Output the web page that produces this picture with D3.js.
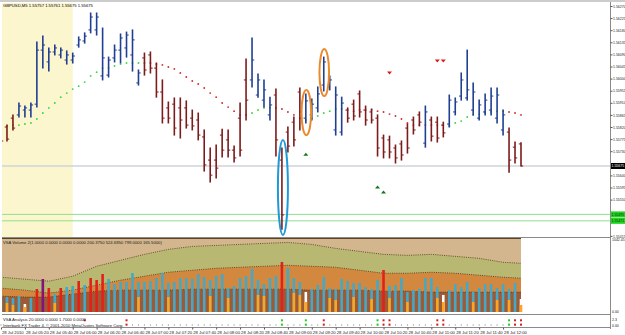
<!DOCTYPE html>
<html lang="en">
<head>
<meta charset="UTF-8">
<title>GBPUSD,M5</title>
<script src="https://cdn.jsdelivr.net/npm/d3@7"></script>
<style>
  body { margin: 0; background: #fff; }
  svg { display: block; font-family: "Liberation Sans", Arial, sans-serif; }
</style>
</head>
<body>
<svg width="625" height="335"></svg>
<script>
// GBPUSD M5, 28 Jul 2010 05:00 - 12:15, one entry per bar
const opens = [1.55775, 1.55820, 1.55853, 1.55865, 1.55883, 1.55883, 1.55905, 1.56106, 1.56062, 1.56099,
  1.56088, 1.56069, 1.56069, 1.56125, 1.56140, 1.56181, 1.56181, 1.56010, 1.56013, 1.56077,
  1.56106, 1.56114, 1.56088, 1.55984, 1.56077, 1.56088, 1.56039, 1.55950, 1.55891, 1.55905,
  1.55891, 1.55891, 1.55853, 1.55846, 1.55783, 1.55697, 1.55697, 1.55790, 1.55772, 1.55734,
  1.55853, 1.55995, 1.55995, 1.55939, 1.55920, 1.55865, 1.55939, 1.55697, 1.55801, 1.55838,
  1.55950, 1.55853, 1.55865, 1.55891, 1.55976, 1.55969, 1.55809, 1.55801, 1.55883, 1.55905,
  1.55943, 1.55883, 1.55876, 1.55853, 1.55779, 1.55772, 1.55742, 1.55757, 1.55816, 1.55846,
  1.55865, 1.55760, 1.55846, 1.55838, 1.55827, 1.55831, 1.55876, 1.55935, 1.55928, 1.55883,
  1.55853, 1.55876, 1.55883, 1.55853, 1.55809, 1.55801, 1.55745, 1.55757]
const highs = [1.55779, 1.55827, 1.55865, 1.55909, 1.55898, 1.55909, 1.56136, 1.56158, 1.56114, 1.56125,
  1.56114, 1.56103, 1.56095, 1.56155, 1.56170, 1.56244, 1.56244, 1.56188, 1.56080, 1.56125,
  1.56166, 1.56173, 1.56181, 1.56032, 1.56095, 1.56099, 1.56058, 1.55995, 1.55913, 1.55928,
  1.55928, 1.55917, 1.55883, 1.55872, 1.55809, 1.55742, 1.55753, 1.55812, 1.55809, 1.55749,
  1.55909, 1.56073, 1.56151, 1.56017, 1.55995, 1.55931, 1.55961, 1.55742, 1.55820, 1.55857,
  1.55965, 1.55943, 1.55924, 1.55969, 1.56080, 1.56010, 1.55969, 1.55931, 1.55891, 1.55920,
  1.55954, 1.55898, 1.55887, 1.55865, 1.55790, 1.55786, 1.55753, 1.55768, 1.55831, 1.55857,
  1.55876, 1.55898, 1.55857, 1.55857, 1.55838, 1.55939, 1.55928, 1.56021, 1.56106, 1.55984,
  1.55920, 1.55943, 1.55965, 1.55965, 1.55883, 1.55816, 1.55764, 1.55761]
const lows = [1.55768, 1.55768, 1.55809, 1.55857, 1.55857, 1.55857, 1.55894, 1.56039, 1.56028, 1.56088,
  1.56077, 1.56054, 1.56058, 1.56117, 1.56132, 1.56170, 1.56162, 1.55995, 1.56006, 1.56062,
  1.56058, 1.56080, 1.56028, 1.55976, 1.56013, 1.56021, 1.55931, 1.55835, 1.55835, 1.55790,
  1.55779, 1.55816, 1.55809, 1.55772, 1.55656, 1.55615, 1.55630, 1.55708, 1.55708, 1.55690,
  1.55712, 1.55846, 1.55969, 1.55931, 1.55894, 1.55846, 1.55712, 1.55440, 1.55727, 1.55749,
  1.55809, 1.55835, 1.55846, 1.55876, 1.55954, 1.55958, 1.55790, 1.55790, 1.55838, 1.55846,
  1.55857, 1.55827, 1.55835, 1.55712, 1.55705, 1.55705, 1.55686, 1.55697, 1.55723, 1.55794,
  1.55824, 1.55745, 1.55768, 1.55764, 1.55783, 1.55820, 1.55865, 1.55920, 1.55920, 1.55865,
  1.55846, 1.55865, 1.55865, 1.55835, 1.55790, 1.55652, 1.55686, 1.55675]
const closes = [1.55768, 1.55775, 1.55816, 1.55898, 1.55891, 1.55902, 1.56106, 1.56125, 1.56099, 1.56114,
  1.56106, 1.56088, 1.56084, 1.56144, 1.56158, 1.56229, 1.56229, 1.56077, 1.56069, 1.56106,
  1.56151, 1.56162, 1.56144, 1.56021, 1.56032, 1.56039, 1.55950, 1.55853, 1.55853, 1.55816,
  1.55846, 1.55827, 1.55824, 1.55790, 1.55679, 1.55641, 1.55667, 1.55734, 1.55734, 1.55705,
  1.55734, 1.55920, 1.56069, 1.55995, 1.55958, 1.55902, 1.55772, 1.55493, 1.55749, 1.55772,
  1.55876, 1.55917, 1.55905, 1.55943, 1.56062, 1.55995, 1.55939, 1.55909, 1.55853, 1.55861,
  1.55876, 1.55846, 1.55846, 1.55742, 1.55727, 1.55727, 1.55705, 1.55716, 1.55742, 1.55809,
  1.55838, 1.55876, 1.55786, 1.55779, 1.55798, 1.55920, 1.55913, 1.55995, 1.55958, 1.55950,
  1.55902, 1.55920, 1.55935, 1.55939, 1.55865, 1.55697, 1.55705, 1.55675]

// dotted moving average and its colour (g rising, r falling)
const maValues = [1.55824, 1.55824, 1.55827, 1.55827, 1.55831, 1.55835, 1.55850, 1.55872, 1.55891, 1.55909,
  1.55931, 1.55946, 1.55961, 1.55972, 1.55987, 1.56010, 1.56024, 1.56039, 1.56039, 1.56047,
  1.56054, 1.56058, 1.56058, 1.56058, 1.56058, 1.56058, 1.56054, 1.56051, 1.56043, 1.56036,
  1.56021, 1.56006, 1.55991, 1.55980, 1.55965, 1.55946, 1.55931, 1.55909, 1.55894, 1.55879,
  1.55865, 1.55865, 1.55872, 1.55883, 1.55891, 1.55891, 1.55891, 1.55887, 1.55876, 1.55865,
  1.55853, 1.55846, 1.55853, 1.55861, 1.55872, 1.55879, 1.55887, 1.55887, 1.55883, 1.55879,
  1.55883, 1.55883, 1.55883, 1.55879, 1.55876, 1.55868, 1.55861, 1.55850, 1.55835, 1.55827,
  1.55827, 1.55827, 1.55827, 1.55827, 1.55827, 1.55824, 1.55835, 1.55842, 1.55857, 1.55865,
  1.55868, 1.55872, 1.55876, 1.55879, 1.55879, 1.55876, 1.55872, 1.55865]
const maTrend = "gggggggggggggggggggggggg" + "rrrrrrrrrrrrrrrrrr" + "gggg" + "rrrrr" + "ggggggg" +
  "rrrrrrrrrrrrr" + "r" + "rrr" + "gggggggggg" + "rrr"

// signal arrows [bar, price]
const sellArrows = [[65, 1.56021], [73, 1.56065], [74, 1.56065]]
const buyArrows = [[51, 1.55719], [63, 1.55597], [64, 1.55578]]
// circled bars [bar, top price, bottom price]
const blueRings = [[47, 1.55772, 1.55418]]
const orangeRings = [[51, 1.55958, 1.55790], [54, 1.56110, 1.55935]]

const lastPrice = 1.55675
const levels = [1.55495, 1.55471]
const sessionBars = [0, 12]

// VSA volume pane
const volumes = [240, 211, 197, 225, 113, 197, 324, 465, 338, 254,
  338, 352, 366, 437, 380, 479, 451, 535, 465, 394,
  423, 423, 549, 423, 423, 437, 479, 549, 408, 423,
  479, 479, 465, 535, 493, 451, 507, 535, 338, 366,
  479, 507, 606, 451, 394, 479, 507, 705, 620, 479,
  423, 282, 324, 380, 493, 338, 324, 465, 437, 408,
  408, 352, 324, 451, 592, 366, 380, 479, 282, 310,
  324, 479, 479, 352, 240, 310, 394, 352, 423, 282,
  338, 394, 394, 338, 394, 324, 408, 183]
const volumeKind = "bbbbwbrprb" + "rbbrbrrrbb" + "bbbbbbbbbb" + "bbbbbbbbbb" + "bbbbbbbrbb" +
  "bwbbbbbbbb" + "bbbbrbbbbb" + "bbbbwbbbbb" + "bbbbbbbw"
const lowVolume = [[1, 127], [2, 99], [4, 70], [9, 127], [23, 211], [28, 211], [35, 225], [38, 197],
  [43, 240], [44, 225], [49, 268], [50, 240], [51, 141], [55, 197], [56, 169], [59, 211], [62, 183],
  [65, 197], [68, 141], [73, 197], [74, 141], [79, 141], [83, 169], [85, 169], [87, 99]]
const bandBars = [0, 4, 8, 12, 16, 20, 24, 28, 32, 36, 40, 44, 48, 52, 56, 60, 64, 68, 72, 76, 80, 84, 87]
const bandHigh = [490, 462, 434, 504, 644, 728, 812, 882, 924, 938, 952, 966, 980, 952, 896, 854, 812, 798, 812, 784, 756, 700, 686]
const bandMid = [336, 308, 266, 308, 378, 448, 504, 560, 588, 616, 630, 644, 658, 644, 630, 588, 546, 546, 560, 546, 518, 490, 476]
const bandLow = [224, 210, 210, 252, 294, 308, 308, 308, 322, 322, 322, 322, 322, 308, 308, 308, 294, 294, 280, 280, 280, 280, 280]
const volumeMax = 1042.45

// VSA analysis signals
const vsaUp = [47, 51, 63, 85]
const vsaDown = [14, 21, 54, 64, 65, 73, 74, 86, 87]

const priceTicks = [1.56270, 1.56225, 1.56180, 1.56135, 1.56090, 1.56045, 1.56000, 1.55955, 1.55910, 1.55865,
  1.55820, 1.55775, 1.55730, 1.55685, 1.55640, 1.55595, 1.55550, 1.55505, 1.55460, 1.55415]
const timeLabels = ["28 Jul 2010", "28 Jul 05:20", "28 Jul 05:40", "28 Jul 06:00", "28 Jul 06:20", "28 Jul 06:40",
  "28 Jul 07:00", "28 Jul 07:20", "28 Jul 07:40", "28 Jul 08:00", "28 Jul 08:20", "28 Jul 08:40",
  "28 Jul 09:00", "28 Jul 09:20", "28 Jul 09:40", "28 Jul 10:00", "28 Jul 10:20", "28 Jul 10:40",
  "28 Jul 11:00", "28 Jul 11:20", "28 Jul 11:40", "28 Jul 12:00"]

const svg = d3.select("svg")
const fmt = d3.format(".5f")
const axisX = 610
const fs = 4.2
const fsAxis = 3.5
const bars = d3.range(opens.length)

const x = d3.scaleLinear().domain([0, bars.length - 1]).range([1, 521])
const y = d3.scaleLinear().domain([1.55415, 1.56270]).range([235.9, 6])
const yv = d3.scaleLinear().domain([0, volumeMax]).range([312, 238])

const defs = svg.append("defs")
defs.append("clipPath").attr("id", "clipMain")
  .append("rect").attr("x", 2).attr("y", 3).attr("width", axisX - 2).attr("height", 234)
defs.append("clipPath").attr("id", "clipVol")
  .append("rect").attr("x", 2).attr("y", 238).attr("width", axisX - 2).attr("height", 75)

// window top edge
svg.append("rect").attr("x", 0).attr("y", 0).attr("width", 625).attr("height", 2).attr("fill", "#cccccc")

// ---- main pane
const main = svg.append("g").attr("clip-path", "url(#clipMain)")
main.append("rect")
  .attr("x", x(sessionBars[0]) - 3).attr("y", 3)
  .attr("width", x(sessionBars[1]) - x(sessionBars[0]) + 3).attr("height", 234)
  .attr("fill", "#fcf6cf")

main.append("line")
  .attr("x1", 2).attr("x2", axisX).attr("y1", y(lastPrice)).attr("y2", y(lastPrice))
  .attr("stroke", "#cfd3d8").attr("stroke-width", 1.6)
main.selectAll(".lvl").data(levels).enter().append("line")
  .attr("x1", 2).attr("x2", axisX).attr("y1", d => y(d)).attr("y2", d => y(d))
  .attr("stroke", "#8ee08e").attr("stroke-width", 1)

main.selectAll(".ma").data(bars).enter().append("circle")
  .attr("cx", i => x(i)).attr("cy", i => y(maValues[i])).attr("r", 0.95)
  .attr("fill", i => maTrend[i] === "g" ? "#3ad83a" : "#d23030")

const bar = main.selectAll(".bar").data(bars).enter().append("g")
  .attr("stroke", i => closes[i] >= opens[i] ? "#1f3f90" : "#7c1b1b")
bar.append("line")
  .attr("x1", i => x(i)).attr("x2", i => x(i))
  .attr("y1", i => y(highs[i]) - 0.5).attr("y2", i => y(lows[i]) + 0.5)
  .attr("stroke-width", 1.6)
bar.append("line")
  .attr("x1", i => x(i) - 2.2).attr("x2", i => x(i))
  .attr("y1", i => y(opens[i])).attr("y2", i => y(opens[i]))
  .attr("stroke-width", 1)
bar.append("line")
  .attr("x1", i => x(i)).attr("x2", i => x(i) + 2.2)
  .attr("y1", i => y(closes[i])).attr("y2", i => y(closes[i]))
  .attr("stroke-width", 1)

main.selectAll(".sell").data(sellArrows).enter().append("path")
  .attr("d", d => `M${x(d[0]) - 2.5},${y(d[1]) - 1.5}h5l-2.5,3z`)
  .attr("fill", "#e01818")
main.selectAll(".buy").data(buyArrows).enter().append("path")
  .attr("d", d => `M${x(d[0]) - 2.5},${y(d[1]) + 1.5}h5l-2.5,-3z`)
  .attr("fill", "#137a13")

main.selectAll(".ringB").data(blueRings).enter().append("ellipse")
  .attr("cx", d => x(d[0]) + 1).attr("cy", d => (y(d[1]) + y(d[2])) / 2)
  .attr("rx", 5).attr("ry", d => (y(d[2]) - y(d[1])) / 2)
  .attr("fill", "none").attr("stroke", "#1f9ad8").attr("stroke-width", 2)
main.selectAll(".ringO").data(orangeRings).enter().append("ellipse")
  .attr("cx", d => x(d[0]) + 0.5).attr("cy", d => (y(d[1]) + y(d[2])) / 2)
  .attr("rx", 4.8).attr("ry", d => (y(d[2]) - y(d[1])) / 2)
  .attr("fill", "none").attr("stroke", "#ea8a2c").attr("stroke-width", 2)

const n = opens.length - 1
svg.append("text").attr("x", 3).attr("y", 6.5).attr("font-size", fs).attr("fill", "#000")
  .text(`GBPUSD,M5  ${fmt(opens[n])} ${fmt(highs[n])} ${fmt(lows[n])} ${fmt(closes[n])}`)

// ---- volume pane
const vol = svg.append("g").attr("clip-path", "url(#clipVol)")
const bandArea = (vals) => d3.area().x((d, i) => x(bandBars[i])).y0(yv(0)).y1((d) => yv(d))(vals)
const bandLine = (vals) => d3.line().x((d, i) => x(bandBars[i])).y((d) => yv(d))(vals)
vol.append("path").attr("d", bandArea(bandBars.map(() => volumeMax))).attr("fill", "#d4b68e")
vol.append("path").attr("d", bandArea(bandHigh)).attr("fill", "#b9b872")
vol.append("path").attr("d", bandArea(bandMid)).attr("fill", "#d2893f")
vol.append("path").attr("d", bandArea(bandLow)).attr("fill", "#9c5a37")
;[bandHigh, bandMid, bandLow].forEach(b => {
  vol.append("path").attr("d", bandLine(b)).attr("fill", "none")
    .attr("stroke", "#4a3418").attr("stroke-width", 0.8).attr("stroke-dasharray", "1,1.2")
})
vol.append("line").attr("x1", x(0)).attr("x2", x(n)).attr("y1", 238.5).attr("y2", 238.5)
  .attr("stroke", "#5d4326").attr("stroke-width", 1)

const volColors = { b: "#45a8c6", r: "#e3211b", p: "#83127f", w: "#ffffff" }
vol.selectAll(".vb").data(bars).enter().append("rect")
  .attr("x", i => x(i) - 1.3).attr("width", 2.6)
  .attr("y", i => yv(volumes[i])).attr("height", i => yv(0) - yv(volumes[i]))
  .attr("fill", i => volColors[volumeKind[i]])
vol.selectAll(".lv").data(lowVolume).enter().append("rect")
  .attr("x", d => x(d[0]) - 1.3).attr("width", 2.6)
  .attr("y", d => yv(d[1])).attr("height", d => yv(0) - yv(d[1]))
  .attr("fill", "#ffa41c")

svg.append("text").attr("x", 3).attr("y", 243.5).attr("font-size", fs).attr("fill", "#222")
  .text("VSA Volume 2(1.0000 0.0000 0.0000 0.0000 200.3750 524.6850 799.0000 165.5000)")

// ---- VSA analysis pane
svg.selectAll(".vd").data(bars).enter().append("rect")
  .attr("x", i => x(i) - 0.5).attr("y", 324.5).attr("width", 1).attr("height", 1)
  .attr("fill", "#7a7a7a")
const sig = (list, color) => list.forEach(i => {
  ;[319.3, 323.6].forEach(v => {
    svg.append("rect").attr("x", x(i) - 1).attr("y", v).attr("width", 2).attr("height", 2).attr("fill", color)
  })
})
sig(vsaUp, "#22cc22")
sig(vsaDown, "#d81e1e")
svg.append("text").attr("x", 3).attr("y", 321).attr("font-size", fs).attr("fill", "#222")
  .text("VSA Analysis 20.0000 0.0000 1.7000 0.0000")
const credit = svg.append("text").attr("x", 3).attr("y", 326.6).attr("font-size", fs).attr("fill", "#222")
  .text("Interbank FX Trader 4, © 2001-2010 MetaQuotes Software Corp.")
const cb = credit.node().getBBox()
svg.insert("rect", "text:last-of-type")
  .attr("x", cb.x).attr("y", 323.2).attr("width", cb.width + 1).attr("height", 3.6).attr("fill", "#fff")

// ---- frame lines
const grid = svg.append("g").attr("stroke", "#8a8a8a").attr("stroke-width", 1)
grid.append("line").attr("x1", axisX + 0.5).attr("x2", axisX + 0.5).attr("y1", 2).attr("y2", 329)
grid.append("line").attr("x1", 2).attr("x2", axisX).attr("y1", 237.5).attr("y2", 237.5)
grid.append("line").attr("x1", 2).attr("x2", axisX).attr("y1", 314.5).attr("y2", 314.5)
grid.append("line").attr("x1", 2).attr("x2", axisX).attr("y1", 327.5).attr("y2", 327.5)

// ---- right price axis (labels under the price tags are hidden, as in the terminal)
const tagged = levels.concat([lastPrice])
const shownTicks = priceTicks.filter(p => tagged.every(t => Math.abs(y(p) - y(t)) > 5))
const yAxis = d3.axisRight(y).tickValues(shownTicks).tickFormat(fmt).tickSize(2).tickPadding(0.5)
const ya = svg.append("g").attr("transform", `translate(${axisX + 0.5},0)`).call(yAxis)
ya.select(".domain").remove()
ya.selectAll("line").attr("stroke", "#555")
ya.selectAll("text").attr("font-size", fsAxis).attr("fill", "#222").attr("font-family", "Liberation Sans, Arial")

const tag = (price, bg, fg) => {
  svg.append("rect").attr("x", axisX + 1).attr("y", y(price) - 3).attr("width", 14).attr("height", 6).attr("fill", bg)
  svg.append("text").attr("x", axisX + 1.5).attr("y", y(price) + 1.3).attr("font-size", fsAxis).attr("fill", fg).text(fmt(price))
}
levels.forEach(p => tag(p, "#22d422", "#063306"))
tag(lastPrice, "#000", "#fff")

const rightText = [["1042.45", yv(volumeMax) + 3], ["0.00", yv(0) + 0.5], ["2.3", 320.5], ["0.00", 326.5]]
svg.selectAll(".rt").data(rightText).enter().append("text")
  .attr("x", axisX + 2).attr("y", d => d[1]).attr("font-size", fsAxis).attr("fill", "#222").text(d => d[0])

// ---- time axis
const tb = svg.append("g")
tb.selectAll("line").data(timeLabels).enter().append("line")
  .attr("x1", (d, i) => x(i * 4) + 0.5).attr("x2", (d, i) => x(i * 4) + 0.5)
  .attr("y1", 327.5).attr("y2", 329.5).attr("stroke", "#555")
tb.selectAll("text").data(timeLabels).enter().append("text")
  .attr("x", (d, i) => x(i * 4) + 1).attr("y", 333.5).attr("font-size", fs).attr("fill", "#222")
  .text(d => d)
</script>
</body>
</html>
